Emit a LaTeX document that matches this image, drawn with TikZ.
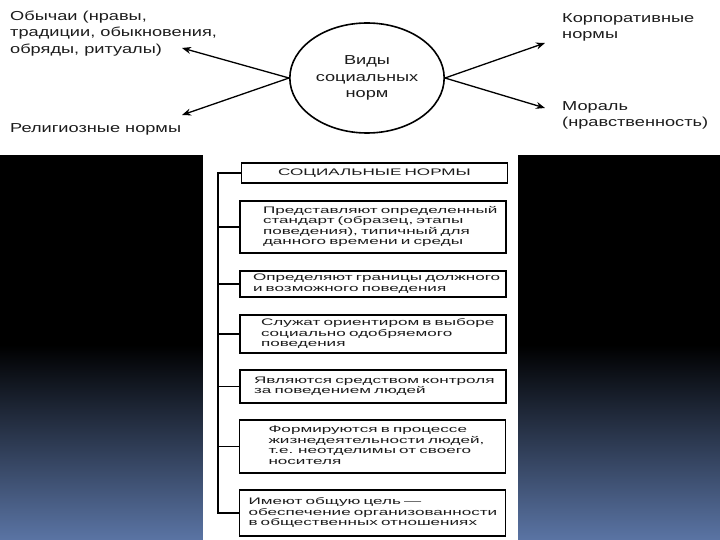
\documentclass[tikz,border=0pt]{standalone}
\usepackage{fontspec}
\usepackage{tikz}
\usetikzlibrary{shapes.geometric, arrows.meta}
\setmainfont{Liberation Sans}
\newfontfamily\widefont[FakeStretch=1.4]{Liberation Sans}
\newfontfamily\propfont[FakeStretch=1.8]{Liberation Sans}
\definecolor{slidebottom}{HTML}{5A74A4}
\definecolor{ink}{HTML}{1C1C1C}
\newcommand{\proptext}[2]{\hspace*{#1}\begin{tabular}{@{}l@{}}#2\end{tabular}}

\begin{document}
\begin{tikzpicture}[x=1pt, y=-1pt,
        kind/.style={font=\widefont\fontsize{13}{16.5}\selectfont, text=ink,
            align=left, inner sep=0pt, anchor=west},
        prop/.style={draw, line width=1.4pt, inner xsep=0pt, inner ysep=2pt,
            text width=266pt, align=left, text=ink,
            font=\propfont\fontsize{9.5}{10.5}\selectfont},
        link/.style={line width=1.3pt},
        toward/.style={-{Stealth[length=9pt, width=7pt]}, line width=1.3pt}]

    % Background
    \fill[white] (0,0) rectangle (720,540);
    \useasboundingbox (0,0) rectangle (720,540);
    \fill[black] (0,155) rectangle (720,346);
    \shade[top color=black, bottom color=slidebottom] (0,345) rectangle (720,540);
    \fill[white] (203,150) rectangle (518,540);

    % Kinds of norms
    \node (vidy) [ellipse, draw, line width=1.6pt,
        minimum width=130pt, minimum height=110pt, text=ink,
        align=center, font=\widefont\fontsize{13}{16.5}\selectfont]
        at (367,78) {Виды\\социальных\\норм};

    \node (obychai) [kind] at (10,33.5) {Обычаи (нравы,\\традиции, обыкновения,\\обряды, ритуалы)};
    \node (relig) [kind] at (10,129) {Религиозные нормы};
    \node (korp) [kind] at (562,27.5) {Корпоративные\\нормы};
    \node (moral) [kind] at (562,115.5) {Мораль\\(нравственность)};

    \coordinate (obychaiTip) at (182,48);
    \coordinate (religTip) at (182,115);
    \coordinate (korpTip) at (545,43);
    \coordinate (moralTip) at (545,108);

    % Arrows
    \draw[toward] (vidy.west) -- (obychaiTip);
    \draw[toward] (vidy.west) -- (religTip);
    \draw[toward] (vidy.east) -- (korpTip);
    \draw[toward] (vidy.east) -- (moralTip);

    % Social norms
    \node (norms) [prop, align=center, minimum height=20pt] at (374.5,173) {СОЦИАЛЬНЫЕ НОРМЫ};
    \node (p1) [prop, minimum height=52pt] at (373,227)
        {\proptext{23pt}{Представляют определенный\\стандарт (образец, этапы\\поведения), типичный для\\данного времени и среды}};
    \node (p2) [prop, minimum height=26pt] at (373,284)
        {\proptext{13pt}{Определяют границы должного\\и возможного поведения}};
    \node (p3) [prop, minimum height=38pt] at (373,334)
        {\proptext{21pt}{Служат ориентиром в выборе\\социально одобряемого\\поведения}};
    \node (p4) [prop, minimum height=33pt] at (373,386.5)
        {\proptext{14pt}{Являются средством контроля\\за поведением людей}};
    \node (p5) [prop, minimum height=53pt] at (372.5,446.5)
        {\proptext{29pt}{Формируются в процессе\\жизнедеятельности людей,\\т.е. неотделимы от своего\\носителя}};
    \node (p6) [prop, minimum height=46pt] at (372.5,513)
        {\proptext{9pt}{Имеют общую цель —\\обеспечение организованности\\в общественных отношениях}};

    % Spine
    \coordinate (spine) at (218,173);
    \draw[link] (norms.west) -- (spine) |- (p6.west);
    \foreach \p in {p1,p2,p3,p4,p5}
        \draw[link] (\p.west) -- (\p.west -| spine);
\end{tikzpicture}
\end{document}
